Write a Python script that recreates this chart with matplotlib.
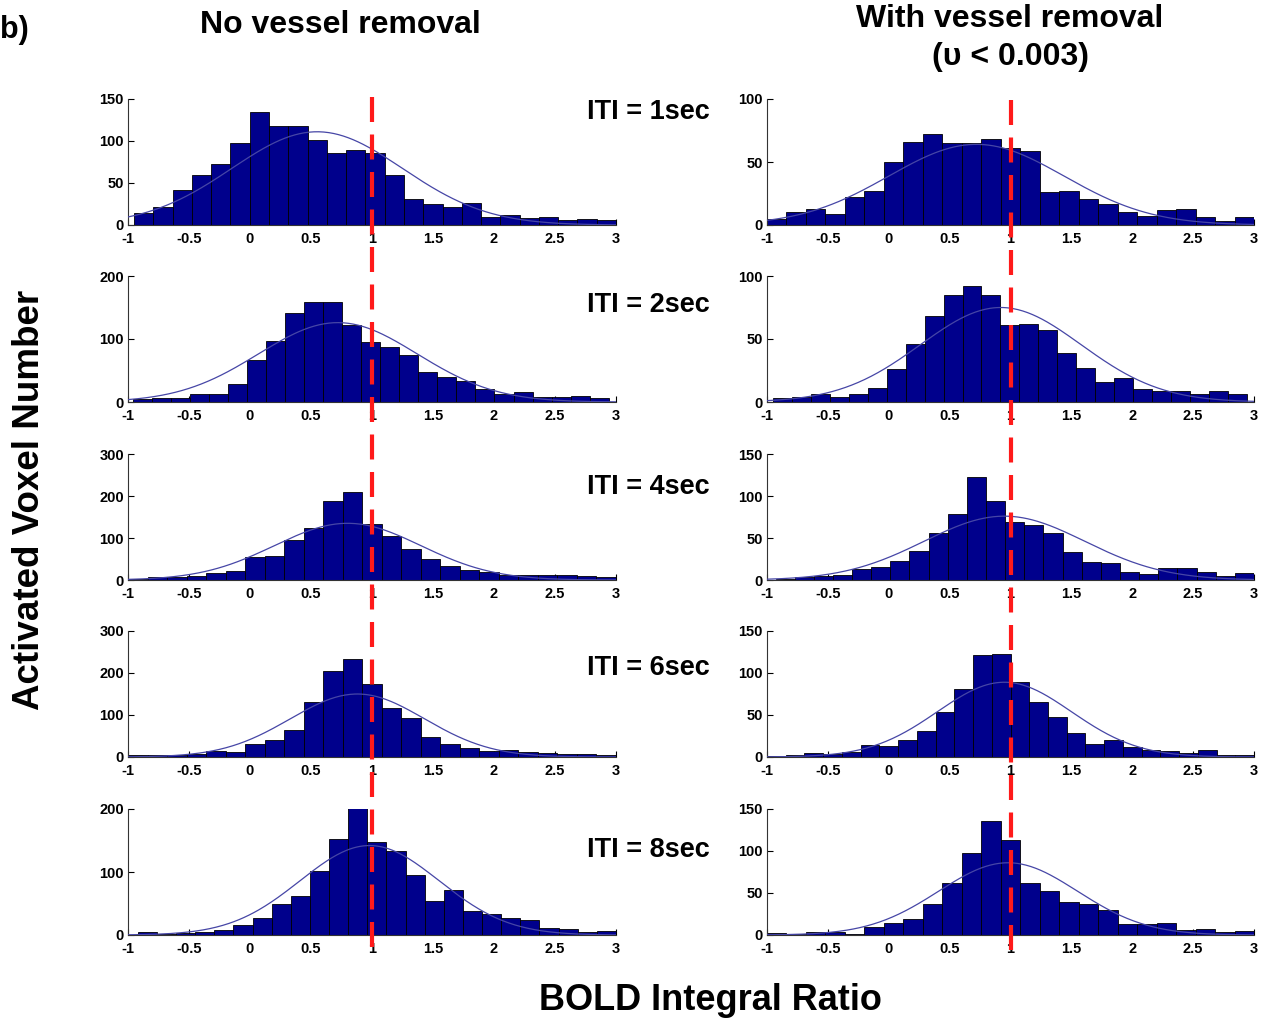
import numpy as np
import matplotlib
matplotlib.use("Agg")
import matplotlib.pyplot as plt
from matplotlib.lines import Line2D
from matplotlib.transforms import blended_transform_factory

# ---------------- data ----------------
iti_labels = ["ITI = 1sec", "ITI = 2sec", "ITI = 4sec", "ITI = 6sec", "ITI = 8sec"]
title_left = "No vessel removal"
title_right_1 = "With vessel removal"
title_right_2 = "(υ < 0.003)"
x_label = "BOLD Integral Ratio"
y_label = "Activated Voxel Number"
x_ticks = [-1, -0.5, 0, 0.5, 1, 1.5, 2, 2.5, 3]
x_tick_labels = ["-1", "-0.5", "0", "0.5", "1", "1.5", "2", "2.5", "3"]

# No vessel removal (left column) histogram counts
left_iti1 = [14, 21, 42, 59, 73, 98, 134, 118, 118, 101, 86, 89, 86, 59, 31, 25, 21, 26, 10, 12, 8, 9, 6, 7, 6]
left_iti2 = [5, 6, 6, 12, 12, 28, 66, 97, 141, 158, 158, 123, 95, 88, 75, 47, 40, 33, 20, 12, 16, 8, 8, 10, 7]
left_iti4 = [2, 6, 8, 10, 17, 22, 54, 58, 95, 125, 189, 209, 134, 105, 74, 49, 34, 24, 19, 12, 13, 13, 11, 9, 8]
left_iti6 = [4, 4, 5, 8, 15, 13, 30, 40, 65, 130, 205, 233, 173, 117, 92, 47, 30, 22, 15, 17, 13, 10, 7, 6, 4]
left_iti8 = [4, 2, 3, 5, 8, 16, 27, 50, 62, 101, 153, 201, 148, 134, 95, 54, 72, 38, 33, 27, 24, 11, 9, 5, 6]

# With vessel removal (right column) histogram counts
right_iti1 = [5, 10, 13, 9, 22, 27, 50, 66, 72, 65, 65, 68, 61, 59, 26, 27, 21, 17, 10, 7, 12, 13, 6, 3, 6]
right_iti2 = [3, 4, 6, 4, 6, 11, 26, 46, 68, 85, 92, 85, 61, 62, 57, 39, 27, 16, 19, 10, 9, 9, 6, 9, 6]
right_iti4 = [1, 3, 5, 6, 13, 15, 23, 34, 56, 79, 123, 94, 69, 66, 56, 33, 22, 20, 9, 7, 14, 14, 9, 5, 8]
right_iti6 = [1, 2, 5, 4, 6, 14, 13, 20, 31, 53, 81, 122, 123, 89, 66, 48, 28, 16, 20, 12, 8, 7, 5, 8, 2, 2]
right_iti8 = [2, 1, 4, 4, 1, 9, 14, 19, 37, 62, 98, 136, 113, 62, 52, 39, 37, 30, 13, 13, 14, 6, 7, 3, 5]

# histogram bin ranges (first edge, last edge)
left_bin_range = [(-0.95, 3.0), (-0.96, 2.94), (-1.0, 3.0), (-1.0, 3.0), (-0.92, 3.0)]
right_bin_range = [(-1.0, 3.0), (-0.95, 2.94), (-0.93, 3.0), (-1.0, 3.0), (-1.0, 3.0)]

# fitted normal curves: (mean, sd, peak height)
left_fit = [(0.55, 0.70, 111), (0.72, 0.65, 126), (0.80, 0.60, 135), (0.88, 0.55, 150), (0.98, 0.57, 142)]
right_fit = [(0.72, 0.72, 64), (0.92, 0.66, 75), (0.95, 0.66, 76), (0.95, 0.55, 89), (0.98, 0.57, 86)]

left_yticks = [[0, 50, 100, 150], [0, 100, 200], [0, 100, 200, 300], [0, 100, 200, 300], [0, 100, 200]]
right_yticks = [[0, 50, 100], [0, 50, 100], [0, 50, 100, 150], [0, 50, 100, 150], [0, 50, 100, 150]]

ref_ratio = 1.0

left_counts = [left_iti1, left_iti2, left_iti4, left_iti6, left_iti8]
right_counts = [right_iti1, right_iti2, right_iti4, right_iti6, right_iti8]

# ---------------- figure ----------------
W, H = 1277, 1024
fig = plt.figure(figsize=(W / 100, H / 100), dpi=100)
fig.patch.set_facecolor("white")

bar_color = "#00008c"
fit_color = "#4646a6"
tick_font = ["Liberation Sans Narrow", "Liberation Sans", "DejaVu Sans"]
bold_font = ["Liberation Sans", "DejaVu Sans"]

row_bottom_px = [225, 402, 580, 757, 935]
ax_h_px = 126
col_x_px = [(128, 488), (767, 487)]


def draw_panel(ax, counts, brange, fit, yticks):
    n = len(counts)
    edges = np.linspace(brange[0], brange[1], n + 1)
    widths = np.diff(edges)
    ax.bar(edges[:-1], counts, width=widths, align="edge", color=bar_color,
           edgecolor="black", linewidth=0.6, zorder=2)
    mu, sd, peak = fit
    xs = np.linspace(-1, 3, 300)
    ax.plot(xs, peak * np.exp(-0.5 * ((xs - mu) / sd) ** 2), color=fit_color,
            lw=0.9, zorder=3)
    ax.set_xlim(-1, 3)
    ax.set_ylim(0, yticks[-1])
    ax.set_xticks(x_ticks)
    ax.set_xticklabels(x_tick_labels, family=tick_font, fontsize=10.5,
                       fontweight="bold")
    ax.set_yticks(yticks)
    ax.set_yticklabels([str(v) for v in yticks], family=tick_font,
                       fontsize=10.5, fontweight="bold")
    ax.tick_params(axis="both", direction="in", length=4, width=0.8)
    ax.tick_params(axis="x", pad=5)
    ax.tick_params(axis="y", pad=3)
    ax.spines["top"].set_visible(False)
    ax.spines["right"].set_visible(False)
    for s in ("left", "bottom"):
        ax.spines[s].set_linewidth(0.8)
        ax.spines[s].set_color("#333333")
    ax.patch.set_alpha(0)


axes_cols = []
for ci, (counts_list, ranges, fits, yts) in enumerate(
        [(left_counts, left_bin_range, left_fit, left_yticks),
         (right_counts, right_bin_range, right_fit, right_yticks)]):
    x0, w = col_x_px[ci]
    col_axes = []
    for ri in range(5):
        bottom = 1 - row_bottom_px[ri] / H
        ax = fig.add_axes([x0 / W, bottom, w / W, ax_h_px / H])
        draw_panel(ax, counts_list[ri], ranges[ri], fits[ri], yts[ri])
        col_axes.append(ax)
    axes_cols.append(col_axes)

# red dashed reference line at ratio = 1 spanning each column
for ax, (ytop, ybot) in zip([axes_cols[0][0], axes_cols[1][0]],
                            [(97, 956), (100, 953)]):
    tr = blended_transform_factory(ax.transData, fig.transFigure)
    ln = Line2D([ref_ratio, ref_ratio], [1 - ytop / H, 1 - ybot / H],
                transform=tr, color="#ff1a1a", lw=3.0,
                linestyle=(0, (6, 3)), zorder=10)
    fig.add_artist(ln)

# ITI labels
for ri, lab in enumerate(iti_labels):
    fig.text(648 / W, 1 - [112, 305, 487, 668, 850][ri] / H, lab,
             ha="center", va="center", fontsize=19.5, fontweight="bold",
             family=bold_font)

fig.text(340 / W, 1 - 25 / H, title_left, ha="center", va="center",
         fontsize=23, fontweight="bold", family=bold_font)
fig.text(1010 / W, 1 - 19 / H, title_right_1, ha="center", va="center",
         fontsize=23, fontweight="bold", family=bold_font)
fig.text(1010 / W, 1 - 57 / H, title_right_2, ha="center", va="center",
         fontsize=23, fontweight="bold", family=bold_font)
fig.text(0 / W, 1 - 30 / H, "b)", ha="left", va="center",
         fontsize=22, fontweight="bold", family=bold_font)
fig.text(30 / W, 1 - 500 / H, y_label, ha="center", va="center",
         rotation=90, fontsize=26.5, fontweight="bold", family=bold_font)
fig.text(710 / W, 1 - 1000 / H, x_label, ha="center", va="center",
         fontsize=26, fontweight="bold", family=bold_font)

fig.savefig("out.png", dpi=100, facecolor="white")
